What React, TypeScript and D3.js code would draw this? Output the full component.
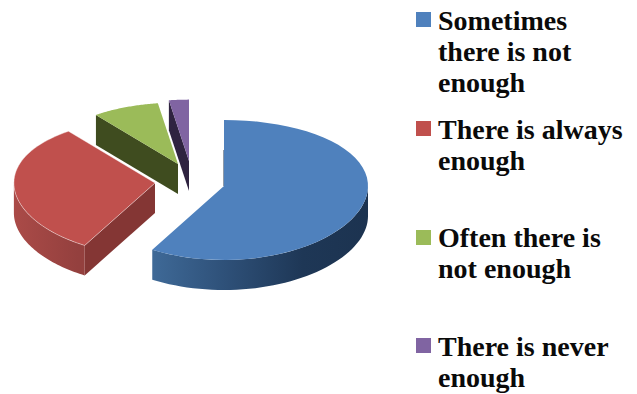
import React from "react";
import * as d3 from "d3";

// Share of answers for each response, clockwise from twelve o'clock
const responses = [
  ["Sometimes", "there is not", "enough"],
  ["There is always", "enough"],
  ["Often there is", "not enough"],
  ["There is never", "enough"],
];
const shares = [58.3, 31.2, 8.1, 2.4];
const topColors = ["#4f81bd", "#c0504d", "#9bbb59", "#8064a2"];
const cutColors = ["#1d3553", "#843634", "#3f4c1f", "#2f2340"];

// Exploded slice apexes and their foreshortening
const apexes: [number, number][] = [[224, 186], [155, 183], [178, 164], [189, 161]];
const scales = [1, 0.98, 0.93, 0.93];
const depth = 30;
const legendSwatchY = [12, 121, 230, 338];
const legendBaselines = [[30, 61, 92], [139, 170], [247, 278], [356, 387]];

const TAU = Math.PI * 2;

// Tilted-disc projection: the near half of the rim is slightly larger than the far half
const project = (apex: [number, number], scale: number, a: number): [number, number] => {
  const c = Math.cos(a);
  return [apex[0] + 144 * scale * Math.sin(a), apex[1] - c * (70 - 4 * c) * scale];
};

const arcPoints = (apex: [number, number], scale: number, a0: number, a1: number) =>
  d3.range(0, 49).map((i) => project(apex, scale, a0 + ((a1 - a0) * i) / 48));

const line = d3.line();
const shift = (p: [number, number]): [number, number] => [p[0], p[1] + depth];

export default function App() {
  const arcs = d3.pie<number>().sort(null).value((d) => d)(shares);
  const order = [3, 2, 1, 0];

  return (
    <svg
      width={637}
      height={394}
      style={{ position: "absolute", left: 0, top: 0, background: "#fff" }}
      fontFamily="'Liberation Serif', serif"
    >
      <defs>
        <linearGradient id="wall0" gradientUnits="userSpaceOnUse" x1={150} x2={368} y1={0} y2={0}>
          <stop offset="0" stopColor="#3f6a98" />
          <stop offset="0.35" stopColor="#2e5078" />
          <stop offset="0.7" stopColor="#1e3756" />
          <stop offset="1" stopColor="#1c3350" />
        </linearGradient>
        <linearGradient id="wall1" gradientUnits="userSpaceOnUse" x1={12} x2={78} y1={0} y2={0}>
          <stop offset="0" stopColor="#ab4b48" />
          <stop offset="1" stopColor="#94403e" />
        </linearGradient>
      </defs>

      {order.map((i) => {
        const { startAngle, endAngle } = arcs[i];
        const apex = apexes[i];
        const s = scales[i];
        const rim = arcPoints(apex, s, startAngle, endAngle);
        const top = line([apex, ...rim])! + "Z";

        // Cut face that turns toward the viewer: the trailing edge for the
        // blue slice's neighbours on the left, the leading edge for the rest
        const cutAngle = i === 1 ? startAngle : i === 0 ? startAngle : startAngle;
        const corner = project(apex, s, cutAngle);
        const cut = line([apex, corner, shift(corner), shift(apex)])! + "Z";

        // Outer rim wall, only on the near half of the disc
        const from = Math.max(startAngle, TAU / 4);
        const to = Math.min(endAngle, (TAU * 3) / 4);
        const wallRim = from < to ? arcPoints(apex, s, from, to) : [];
        const wall = wallRim.length
          ? line([...wallRim, ...wallRim.slice().reverse().map(shift)])! + "Z"
          : "";

        return (
          <g key={i}>
            {i !== 0 && <path d={cut} fill={cutColors[i]} />}
            {i === 0 && (
              <line
                x1={corner[0]}
                y1={corner[1] + depth}
                x2={apex[0]}
                y2={apex[1]}
                stroke={cutColors[0]}
                strokeWidth={1}
              />
            )}
            {wall && <path d={wall} fill={i < 2 ? `url(#wall${i})` : cutColors[i]} />}
            <path d={top} fill={topColors[i]} stroke={i === 1 ? "#fff" : "none"} strokeOpacity={0.5} strokeWidth={0.8} />
          </g>
        );
      })}

      {responses.map((lines, i) => (
        <g key={lines.join(" ")}>
          <rect x={416} y={legendSwatchY[i]} width={15} height={15} fill={topColors[i]} />
          {lines.map((t, j) => (
            <text
              key={t}
              x={438}
              y={legendBaselines[i][j]}
              fontSize={28}
              fontWeight="bold"
              fill="#0a0a0a"
            >
              {t}
            </text>
          ))}
        </g>
      ))}
    </svg>
  );
}
